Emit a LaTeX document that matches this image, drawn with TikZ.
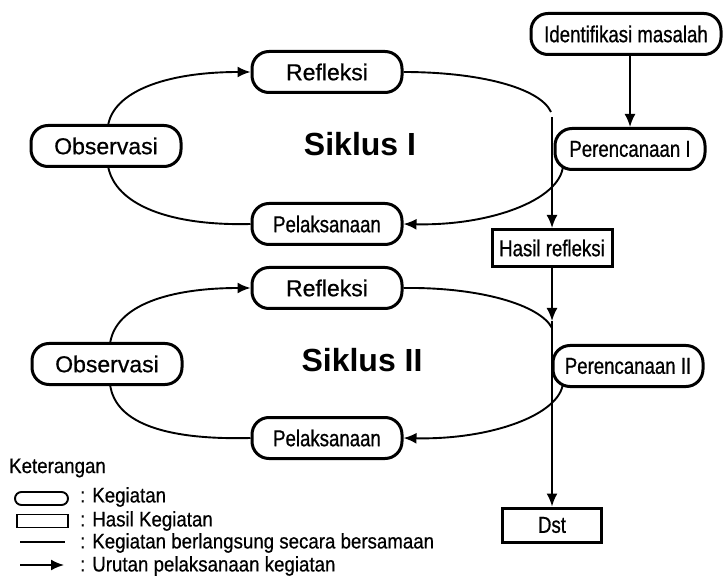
\documentclass[tikz,border=0pt]{standalone}
\usepackage{fontspec}
\setmainfont{Liberation Sans}
\newfontfamily\nar[FakeStretch=0.81,FakeBold=0.7]{Liberation Sans}
\newfontfamily\legfont[FakeStretch=0.89,FakeBold=0.6]{Liberation Sans}
\newfontfamily\wide[FakeBold=0.7]{Liberation Sans}
\newfontfamily\widebold{Liberation Sans Bold}
\usetikzlibrary{arrows.meta,backgrounds}
\begin{document}
\begin{tikzpicture}[x=1pt,y=-1pt,
  act/.style={draw, line width=3pt, rounded corners=17pt, fill=white,
    minimum width=150pt, minimum height=41pt, inner sep=0pt,
    font=\nar\fontsize{23}{25}\selectfont},
  actw/.style={act, font=\wide\fontsize{23}{25}\selectfont},
  res/.style={draw, line width=3pt, fill=white, inner sep=0pt,
    font=\nar\fontsize{23}{25}\selectfont},
  siklus/.style={font=\widebold\fontsize{32}{34}\selectfont, inner sep=0pt},
  conn/.style={line width=1.9pt},
  arr/.style={line width=1.9pt, -{Latex[length=13pt,width=11pt]}},
  leg/.style={anchor=west, inner sep=0pt, font=\legfont\fontsize{21}{23}\selectfont}
]
\useasboundingbox (0,0) rectangle (723,585);

% Cycle I
\node[actw] (ref1) at (327,72) {Refleksi};
\node[actw] (obs1) at (106,146) {Observasi};
\node[act] (pel1) at (327,224) {Pelaksanaan};
\node[act] (per1) at (630,149) {Perencanaan I};
\node[act, minimum width=190pt] (ident) at (626,34) {Identifikasi masalah};
\node[siklus] (sik1) at (360,144) {Siklus I};
\node[res, minimum width=120pt, minimum height=37pt] (hasil) at (552,248) {Hasil refleksi};

% Cycle II
\node[actw] (ref2) at (327,288) {Refleksi};
\node[actw] (obs2) at (107,364) {Observasi};
\node[act] (pel2) at (327,438) {Pelaksanaan};
\node[act] (per2) at (628,366) {Perencanaan II};
\node[siklus] (sik2) at (362,360) {Siklus II};
\node[res, minimum width=99pt, minimum height=34pt] (dst) at (552,525) {Dst};

\coordinate (c1end) at (551,112);
\coordinate (c1start) at (552,117);
\coordinate (c2mid) at (552,321);
\coordinate (c2end) at (552,328);

\begin{scope}[on background layer]
% cycle I connectors
\draw[arr] (108,126) .. controls (113,92) and (165,72) .. (ref1.west);
\draw[conn] (108,166) .. controls (115,205) and (170,226) .. (pel1.west);
\draw[conn] (ref1.east) .. controls (480,72) and (540,88) .. (c1end);
\draw[arr] (563,166) .. controls (560,200) and (490,226) .. (pel1.east);
\draw[arr] (per1.north |- ident.south) -- (per1.north);
\draw[arr] (c1start) -- (hasil.north);
% cycle II connectors
\draw[arr] (110,344) .. controls (115,305) and (170,288) .. (ref2.west);
\draw[conn] (110,384) .. controls (115,425) and (170,440) .. (pel2.west);
\draw[conn] (ref2.east) .. controls (480,287) and (540,305) .. (c2end);
\draw[arr] (563,383) .. controls (560,415) and (490,440) .. (pel2.east);
\draw[arr] (hasil.south) -- (c2mid);
\draw[arr] (c2mid) -- (dst.north);
\end{scope}

% Legend
\node[leg] (ket) at (9,468) {Keterangan};
\node[draw, line width=1.9pt, rounded corners=6.5pt, minimum width=53pt, minimum height=13pt, inner sep=0pt] (lg1) at (41.5,498.5) {};
\node[draw, line width=1.9pt, minimum width=51pt, minimum height=13pt, inner sep=0pt] (lg2) at (42.5,521) {};
\coordinate (lg3a) at (20,542);
\coordinate (lg3b) at (65,542);
\coordinate (lg4a) at (20,565);
\coordinate (lg4b) at (64,565);
\draw[conn] (lg3a) -- (lg3b);
\draw[arr] (lg4a) -- (lg4b);
\node[leg] (t1) at (80,497) {: Kegiatan};
\node[leg] (t2) at (80,521) {: Hasil Kegiatan};
\node[leg] (t3) at (80,543) {: Kegiatan berlangsung secara bersamaan};
\node[leg] (t4) at (80,566) {: Urutan pelaksanaan kegiatan};
\end{tikzpicture}
\end{document}
